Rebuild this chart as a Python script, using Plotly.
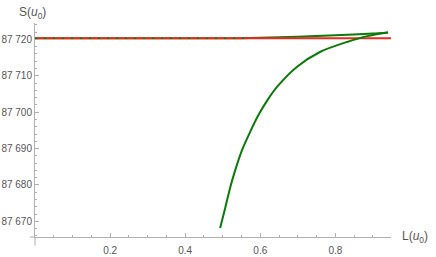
import plotly.graph_objects as go

# Data
red_x = [0.0, 0.948]
red_y = [87720.3, 87720.3]

upper_x = [0.0, 0.55, 0.6, 0.7, 0.8, 0.9, 0.94]
upper_y = [87720.3, 87720.32, 87720.42, 87720.75, 87721.15, 87721.6, 87721.9]

lower_x = [0.493, 0.507, 0.52, 0.533, 0.551, 0.573, 0.595, 0.619, 0.645, 0.698, 0.76, 0.831, 0.885, 0.94]
lower_y = [87668.2, 87673.9, 87679.4, 87684.0, 87689.5, 87694.6, 87699.2, 87703.3, 87707.0,
           87712.5, 87716.6, 87719.3, 87720.9, 87721.9]

dash_x = [0.0, 0.56]
dash_y = [87720.3, 87720.3]

x_tickvals = [0.2, 0.4, 0.6, 0.8]
x_ticktext = ["0.2", "0.4", "0.6", "0.8"]
y_tickvals = [87670, 87680, 87690, 87700, 87710, 87720]
y_ticktext = ["87 670", "87 680", "87 690", "87 700", "87 710", "87 720"]

green = "#0a7a0a"
red = "#ee2a20"

fig = go.Figure()
fig.add_trace(go.Scatter(x=upper_x, y=upper_y, mode="lines", line=dict(color=green, width=2, shape="spline", smoothing=0.6), hoverinfo="skip"))
fig.add_trace(go.Scatter(x=red_x, y=red_y, mode="lines", line=dict(color=red, width=2), hoverinfo="skip"))
fig.add_trace(go.Scatter(x=dash_x, y=dash_y, mode="lines", line=dict(color=green, width=1.5, dash="2px,7px"), hoverinfo="skip"))
fig.add_trace(go.Scatter(x=lower_x, y=lower_y, mode="lines", line=dict(color=green, width=2, shape="spline", smoothing=0.8), hoverinfo="skip"))

axis_color = "#b0b0b0"
font_family = "Liberation Sans, Arial, sans-serif"
tick_font = dict(family=font_family, size=10, color="#555555")

fig.update_layout(
    template="none",
    width=436, height=257,
    margin=dict(l=35, r=45, t=23, b=20, autoexpand=False),
    paper_bgcolor="white", plot_bgcolor="white",
    showlegend=False,
    xaxis=dict(
        range=[0, 0.948], showgrid=False, zeroline=False, automargin=False,
        showline=True, linecolor=axis_color, linewidth=1,
        ticks="inside", ticklen=4, tickcolor=axis_color, ticklabelstandoff=4,
        tickvals=x_tickvals, ticktext=x_ticktext, tickfont=tick_font,
        minor=dict(dtick=0.05, tick0=0, ticks="inside", ticklen=2, tickcolor=axis_color),
        fixedrange=True,
    ),
    yaxis=dict(
        range=[87665.7, 87724.5], showgrid=False, zeroline=False, automargin=False,
        showline=True, linecolor=axis_color, linewidth=1,
        ticks="inside", ticklen=4, tickcolor=axis_color,
        tickvals=y_tickvals, ticktext=y_ticktext, tickfont=tick_font,
        minor=dict(dtick=2, tick0=87670, ticks="inside", ticklen=2, tickcolor=axis_color),
        fixedrange=True,
    ),
    shapes=[
        dict(type="line", xref="paper", yref="paper", x0=0, x1=0, y0=-0.04, y1=0,
             line=dict(color=axis_color, width=1)),
        dict(type="line", xref="paper", yref="paper", x0=-0.015, x1=0, y0=0, y1=0,
             line=dict(color=axis_color, width=1)),
    ],
    annotations=[
        dict(text="S(<i>u</i><sub>0</sub>)", xref="paper", yref="paper", x=-0.05, y=1.0,
             xanchor="left", yanchor="bottom", showarrow=False,
             font=dict(family=font_family, size=12, color="#555555")),
        dict(text="L(<i>u</i><sub>0</sub>)", xref="paper", yref="paper", x=1.025, y=0.0,
             xanchor="left", yanchor="middle", showarrow=False,
             font=dict(family=font_family, size=12, color="#555555")),
    ],
)

fig.write_html(
    "out.html",
    config={"displayModeBar": False, "staticPlot": True},
    post_script="document.body.style.margin='0px';document.body.style.overflow='hidden';",
)
